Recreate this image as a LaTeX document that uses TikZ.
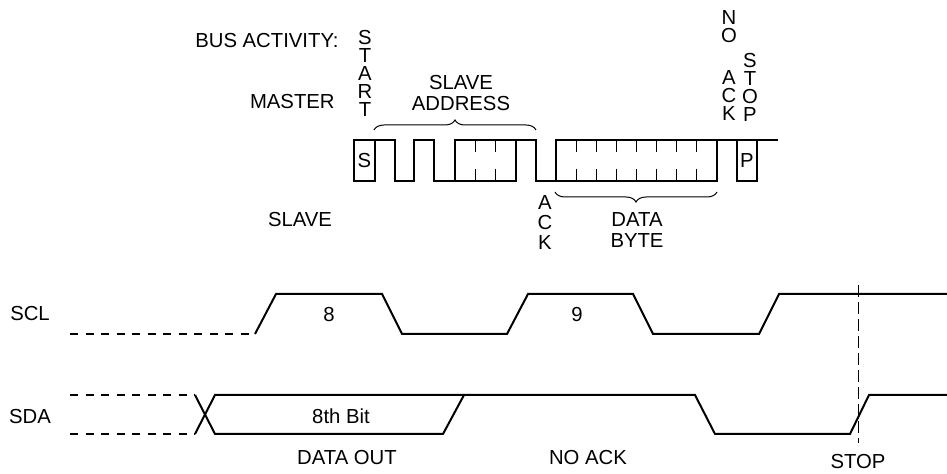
\documentclass[tikz,border=0pt]{standalone}
\usepackage{fontspec}
\setmainfont{Liberation Sans}
\usetikzlibrary{decorations.pathreplacing}
\newcommand{\pxsize}{0.5pt}
\newcommand{\labelfont}{\fontsize{10.15}{10.8}\selectfont}
\newcommand{\stackfont}[1]{\fontsize{10.15}{#1}\selectfont}
\newcommand{\maketicks}[3]{
	\foreach \k in {1,...,#3}{
		\pgfmathsetmacro{\xt}{#1+\k*(#2-#1)/(#3+1)}
		\draw[bittick] (\xt,140) -- (\xt,152) (\xt,169) -- (\xt,181);
	}
}
\tikzset{
	wave/.style={line width=1pt, line join=miter},
	idle/.style={line width=1pt, dash pattern=on 4pt off 3.75pt},
	bittick/.style={line width=0.5pt},
	stopline/.style={line width=0.5pt, dash pattern=on 6pt off 2.5pt},
	bracket/.style={decorate, decoration={brace, amplitude=5pt}, line width=0.5pt},
	label text/.style={font=\labelfont, inner sep=0pt, align=center},
	stack text/.style={font=\stackfont{#1}, inner sep=0pt, align=center, anchor=north},
	stack text/.default=9pt,
}

\begin{document}
\begin{tikzpicture}[x=\pxsize,y=-\pxsize]
	\useasboundingbox (0,0) rectangle (947,474);

	\node[label text, anchor=east] (busact) at (339,41) {BUS ACTIVITY:};
	\node[label text, anchor=east] (master) at (335,102) {MASTER};
	\node[label text] (slave) at (300,220) {SLAVE};
	\node[stack text] (start) at (365,30) {S\\T\\A\\R\\T};
	\node[label text] (address) at (461,93) {SLAVE\\ADDRESS};
	\node[stack text] (no) at (729,10) {N\\O};
	\node[stack text] (noack) at (729,70) {A\\C\\K};
	\node[stack text] (stop) at (750,53) {S\\T\\O\\P};
	\node[stack text=10.1pt] (ack) at (545,195) {A\\C\\K};
	\node[label text] (databyte) at (637,230) {DATA\\BYTE};

	\draw[wave] (354,140) rectangle (375,181);
	\draw[wave] (375,140) -- (395,140) -- (395,181) -- (414,181) -- (414,140)
		-- (434,140) -- (434,181) -- (455,181) -- (455,140) -- (536,140)
		-- (536,181) -- (556,181) -- (556,140) -- (778,140);
	\draw[wave] (455,181) -- (516,181) -- (516,140);
	\draw[wave] (556,181) -- (717,181) -- (717,140);
	\draw[wave] (737,140) rectangle (757,181);
	\maketicks{455}{516}{2}
	\maketicks{556}{717}{7}
	\node[label text] (sbit) at (364.5,160.5) {S};
	\node[label text] (pbit) at (747,160.5) {P};

	\draw[bracket] (374,130) -- (536,130);
	\draw[bracket] (717,192) -- (555,192);

	\node[label text] (scl) at (30,314) {SCL};
	\node[label text] (sda) at (30,417) {SDA};
	\node[label text] (clock8) at (329,315) {8};
	\node[label text] (clock9) at (577,315) {9};
	\node[label text] (lastbit) at (341,416) {8th Bit};
	\node[label text] (dataout) at (347,458) {DATA OUT};
	\node[label text] (nack) at (588,458) {NO ACK};
	\node[label text] (stopcond) at (858,462) {STOP};

	\draw[idle] (70,334) -- (255,334);
	\draw[wave] (255,334) -- (276,294) -- (382,294) -- (402,334) -- (507,334)
		-- (528,294) -- (633,294) -- (653,334) -- (759,334) -- (779,294) -- (947,294);

	\draw[idle] (70,395) -- (195,395);
	\draw[idle] (70,434) -- (195,434);
	\draw[wave] (195,395) -- (215,434) -- (443,434) -- (464,395);
	\draw[wave] (195,434) -- (215,395) -- (695,395) -- (715,434) -- (850,434)
		-- (869,395) -- (947,395);

	\coordinate (stoptop) at (858,285);
	\draw[stopline] (stoptop) -- (858,443);
\end{tikzpicture}
\end{document}
